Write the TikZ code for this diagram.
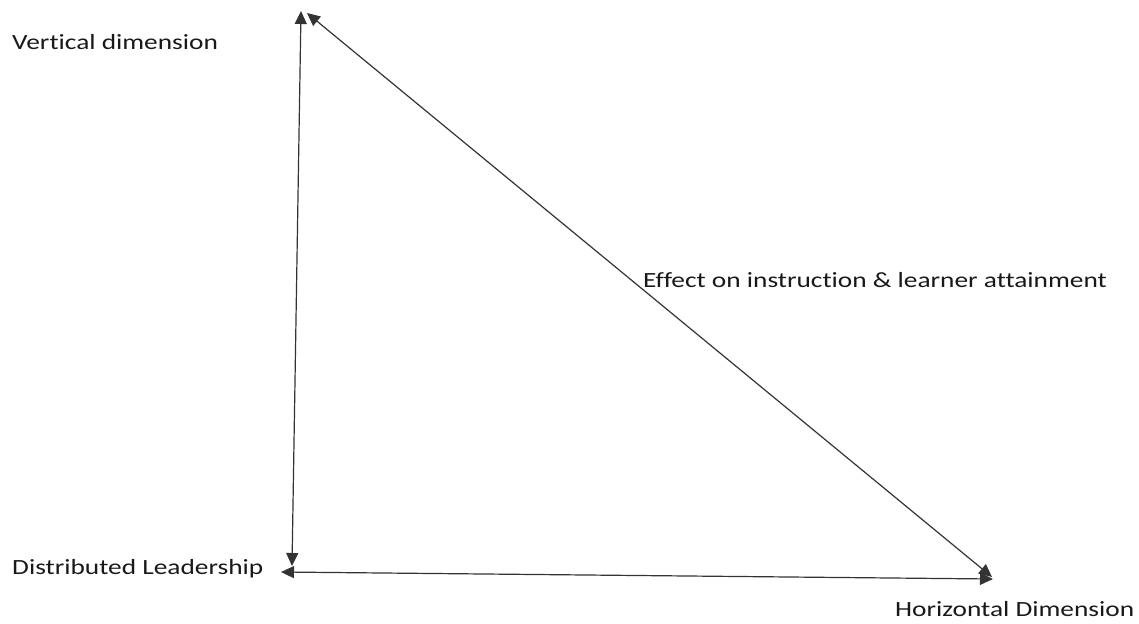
\documentclass[tikz,border=0pt]{standalone}
\usepackage{fontspec}
\usepackage{graphicx}
\setmainfont[Ligatures={NoCommon}]{Carlito}
\usetikzlibrary{arrows.meta}

\tikzset{
    dimlabel/.style={font=\fontsize{21.7}{26}\selectfont, text=black!90, inner sep=0pt, anchor=base west},
    twoway/.style={{Triangle[length=13pt, width=12pt]}-{Triangle[length=13pt, width=12pt]}, line width=1.2pt, draw=black!80}
}
\newcommand{\widetext}[1]{\scalebox{1.26}[1]{#1}}

\begin{document}
\begin{tikzpicture}[x=1pt, y=-1pt]
    % --- canvas ---
    \useasboundingbox (0, 0) rectangle (1139, 623);

    % --- corners of the triangle ---
    \coordinate (vtop)   at (301, 11);
    \coordinate (vbot)   at (292, 566);
    \coordinate (dtop)   at (307, 13);
    \coordinate (dbot)   at (992, 577);
    \coordinate (hleft)  at (281, 572);
    \coordinate (hright) at (993, 579);

    % --- labels ---
    \node[dimlabel] (vertical)    at (12, 50)   {\widetext{Vertical dimension}};
    \node[dimlabel] (distributed) at (12, 574)  {\widetext{Distributed Leadership}};
    \node[dimlabel] (effect)      at (643, 287) {\widetext{Effect on instruction \& learner attainment}};
    \node[dimlabel] (horizontal)  at (895, 616) {\widetext{Horizontal Dimension}};

    % --- double arrows ---
    \draw[twoway] (vtop) -- (vbot);    % vertical side
    \draw[twoway] (dtop) -- (dbot);    % diagonal side
    \draw[twoway] (hleft) -- (hright); % bottom side
\end{tikzpicture}
\end{document}
